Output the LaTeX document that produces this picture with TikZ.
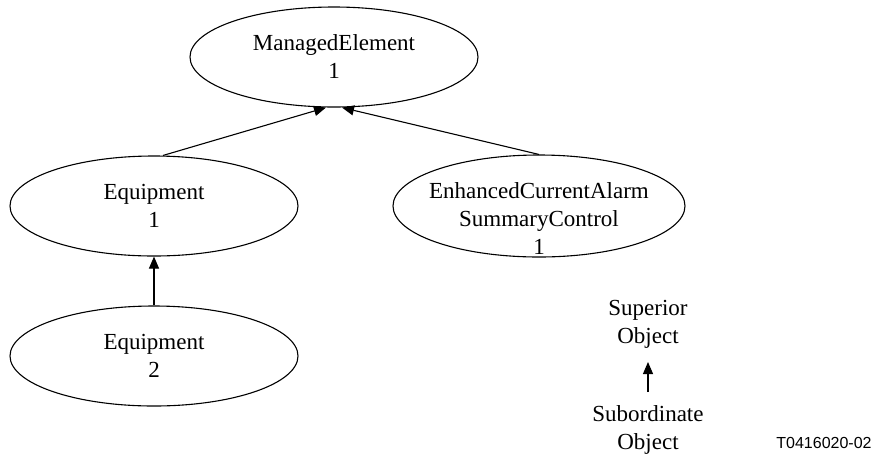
\documentclass[tikz,border=0pt]{standalone}
\usepackage{fontspec}
\setmainfont{Liberation Serif}
\newfontfamily\labelfont{Liberation Sans}
\usetikzlibrary{shapes.geometric,arrows.meta,calc}
\begin{document}
\begin{tikzpicture}[x=1pt,y=-1pt,
  objnode/.style={ellipse,draw,line width=1.1pt,inner sep=0pt,
    minimum width=288pt,minimum height=100pt,align=center,
    font=\fontsize{23}{28}\selectfont},
  legend/.style={align=center,font=\fontsize{23}{28}\selectfont},
  link/.style={line width=1.1pt,-{Triangle[length=12pt,width=10pt]}}]
\useasboundingbox (0,0) rectangle (875,456);

% containment tree
\node[objnode] (me) at (334,57) {ManagedElement\\1};
\node[objnode] (eq1) at (154,206) {Equipment\\1};
\node[objnode] (eq2) at (154,356) {Equipment\\2};
\node[objnode,minimum width=292pt,minimum height=102pt] (ecasc) at (539,206) {};
\node[legend] (ecasctext) at (539,219) {EnhancedCurrentAlarm\\SummaryControl\\1};

\coordinate (meL) at ($(me.south)+(-8,0)$);
\coordinate (meR) at ($(me.south)+(8,0)$);
\coordinate (eq1top) at ($(eq1.north)+(9,0)$);

\draw[link] (eq1top) -- (meL);
\draw[link] (ecasc.north) -- (meR);
\draw[link] (eq2.north) -- (eq1.south);

% legend
\node[legend] (sup) at (648,324) {Superior\\Object};
\node[legend] (sub) at (648,430) {Subordinate\\Object};
\coordinate (subtop) at (648,392);
\coordinate (supbot) at (648,362);
\draw[link] (subtop) -- (supbot);

\node[font=\labelfont\fontsize{16}{18}\selectfont] (tag) at (824,443) {T0416020-02};
\end{tikzpicture}
\end{document}
